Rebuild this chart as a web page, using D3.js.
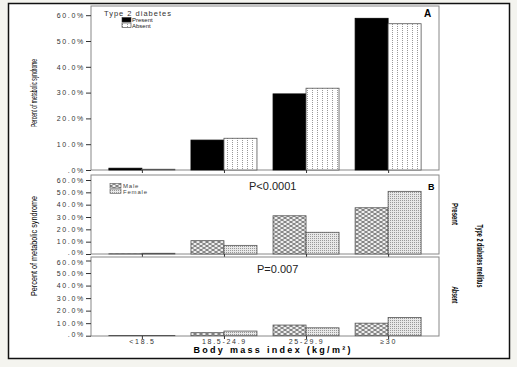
<!DOCTYPE html>
<html>
<head>
<meta charset="utf-8">
<script src="https://cdn.jsdelivr.net/npm/d3@7"></script>
<style>
  body { margin: 0; background: #f4f4ef; }
  text { font-family: "Liberation Sans", Arial, sans-serif; }
  .tick text { font-size: 7px; letter-spacing: 1.7px; fill: #333; }
  .narrow { font-family: "Liberation Sans Narrow", "Liberation Sans", sans-serif; }
</style>
</head>
<body>
<svg id="chart" width="517" height="367"></svg>
<script>

var categories = ["<18.5", "18.5-24.9", "25-29.9", "\u226530"]

var yTicks = [0, 10, 20, 30, 40, 50, 60]

// panel A: metabolic syndrome by diabetes status
var diabetesPresent = [0.7, 11.6, 29.5, 58.8]
var diabetesAbsent = [0.3, 12.3, 31.7, 56.7]

// panel B: by sex, diabetes present
var malePresent = [0.2, 10.8, 31.0, 37.5]
var femalePresent = [0.6, 7.0, 17.6, 50.8]

// panel B: by sex, diabetes absent
var maleAbsent = [0.2, 2.4, 8.5, 10.0]
var femaleAbsent = [0.2, 3.7, 6.3, 14.6]

var svg = d3.select("#chart")

// outer frame
svg.append("rect")
    .attr("x", 8.5).attr("y", 3.5)
    .attr("width", 501).attr("height", 355)
    .attr("fill", "white")
    .attr("stroke", "#111")
    .attr("stroke-width", 1.5)

var defs = svg.append("defs")

// vertical dotted lines (Absent)
var p1 = defs.append("pattern").attr("id", "vdots")
    .attr("patternUnits", "userSpaceOnUse").attr("width", 5).attr("height", 2)
p1.append("rect").attr("width", 5).attr("height", 2).attr("fill", "white")
p1.append("rect").attr("x", 2).attr("y", 0).attr("width", 1).attr("height", 1).attr("fill", "#999")

// lattice (Male)
var p2 = defs.append("pattern").attr("id", "lattice")
    .attr("patternUnits", "userSpaceOnUse").attr("width", 6).attr("height", 4)
p2.append("rect").attr("width", 6).attr("height", 4).attr("fill", "#eee")
p2.append("path").attr("d", "M0,0 L6,4 M0,4 L6,0").attr("stroke", "#555").attr("stroke-width", 0.8)

// stipple (Female)
var p3 = defs.append("pattern").attr("id", "stipple")
    .attr("patternUnits", "userSpaceOnUse").attr("width", 2).attr("height", 2)
p3.append("rect").attr("width", 2).attr("height", 2).attr("fill", "#e8e8e8")
p3.append("rect").attr("width", 1).attr("height", 1).attr("fill", "#999")

var x = d3.scalePoint()
    .domain(categories)
    .range([91, 439])
    .padding(0.62)

var barW = 33

var panels = [
    { top: 6, bottom: 170, y0: 170, y60: 15.2, series: [diabetesPresent, diabetesAbsent], fills: ["#000", "url(#vdots)"] },
    { top: 175, bottom: 254, y0: 254, y60: 180, series: [malePresent, femalePresent], fills: ["url(#lattice)", "url(#stipple)"] },
    { top: 257, bottom: 336, y0: 335.7, y60: 260.5, series: [maleAbsent, femaleAbsent], fills: ["url(#lattice)", "url(#stipple)"] }
]

panels.forEach(function(p, pi) {

    var y = d3.scaleLinear().domain([0, 60]).range([p.y0, p.y60])

    svg.append("rect")
        .attr("x", 91).attr("y", p.top)
        .attr("width", 348).attr("height", p.bottom - p.top)
        .attr("fill", "white")
        .attr("stroke", "#888")
        .attr("stroke-width", 1)

    p.series.forEach(function(s, si) {
        svg.append("g").selectAll("rect")
            .data(s)
            .join("rect")
            .attr("x", (d, i) => x(categories[i]) + (si === 0 ? -barW : 0))
            .attr("y", d => y(d))
            .attr("width", barW)
            .attr("height", d => y(0) - y(d))
            .attr("fill", p.fills[si])
            .attr("stroke", si === 0 && pi === 0 ? "#000" : "#555")
            .attr("stroke-width", 0.8)
    })

    svg.append("g")
        .attr("transform", "translate(91,0)")
        .call(d3.axisLeft(y).tickValues(yTicks).tickSize(5)
            .tickFormat(d => d === 0 ? ".0%" : d.toFixed(1) + "%"))
        .call(g => g.select(".domain").remove())
        .call(g => g.selectAll("line").attr("stroke", "#333"))
        .call(g => g.selectAll("text").attr("x", -6)
            .attr("dy", d => (d === 0 && pi > 0) ? "0.05em" : (d === 60 && pi === 2) ? "0.5em" : "0.32em"))

    var xa = svg.append("g")
        .attr("transform", "translate(0," + p.bottom + ")")
        .call(d3.axisBottom(x).tickSize(3).tickFormat(pi === 2 ? null : ""))
        .call(g => g.select(".domain").remove())
        .call(g => g.selectAll("line").attr("stroke", "#333"))
    xa.selectAll("text").attr("y", 3)
})

// y axis titles
svg.append("text").attr("class", "narrow")
    .attr("transform", "translate(37,93) rotate(-90)")
    .attr("text-anchor", "middle")
    .attr("font-size", 9)
    .attr("textLength", 68).attr("lengthAdjust", "spacingAndGlyphs")
    .text("Percent of metabolic syndrome")

svg.append("text").attr("class", "narrow")
    .attr("transform", "translate(37,246) rotate(-90)")
    .attr("text-anchor", "middle")
    .attr("font-size", 9)
    .attr("textLength", 100).attr("lengthAdjust", "spacingAndGlyphs")
    .text("Percent of metabolic syndrome")

// right side labels
svg.append("text").attr("class", "narrow")
    .attr("transform", "translate(452,214) rotate(90)")
    .attr("text-anchor", "middle")
    .attr("font-size", 9).attr("font-weight", "bold")
    .attr("textLength", 22).attr("lengthAdjust", "spacingAndGlyphs")
    .text("Present")

svg.append("text").attr("class", "narrow")
    .attr("transform", "translate(452,295) rotate(90)")
    .attr("text-anchor", "middle")
    .attr("font-size", 9).attr("font-weight", "bold")
    .attr("textLength", 17).attr("lengthAdjust", "spacingAndGlyphs")
    .text("Absent")

svg.append("text").attr("class", "narrow")
    .attr("transform", "translate(477,256) rotate(90)")
    .attr("text-anchor", "middle")
    .attr("font-size", 9).attr("font-weight", "bold")
    .attr("textLength", 63).attr("lengthAdjust", "spacingAndGlyphs")
    .text("Type 2 diabetes mellitus")

// x axis title
svg.append("text")
    .attr("x", 272).attr("y", 353)
    .attr("text-anchor", "middle")
    .attr("font-size", 9).attr("font-weight", "bold")
    .attr("textLength", 157).attr("lengthAdjust", "spacing")
    .text("Body mass index (kg/m\u00b2)")

// panel letters and p values
svg.append("text").attr("x", 424).attr("y", 17)
    .attr("font-size", 10).attr("font-weight", "bold").text("A")
svg.append("text").attr("x", 428).attr("y", 190)
    .attr("font-size", 9).attr("font-weight", "bold").text("B")
svg.append("text").attr("x", 249).attr("y", 190)
    .attr("font-size", 11).attr("fill", "#222").text("P<0.0001")
svg.append("text").attr("x", 257).attr("y", 273)
    .attr("font-size", 11).attr("fill", "#222").text("P=0.007")

// legend A
svg.append("text").attr("x", 104).attr("y", 15.5)
    .attr("font-size", 7.5).attr("letter-spacing", 1).attr("fill", "#333")
    .text("Type 2 diabetes")
var legA = [["Present", "#000"], ["Absent", "url(#vdots)"]]
legA.forEach(function(l, i) {
    svg.append("rect").attr("x", 122).attr("y", 17.5 + i * 5.5).attr("width", 9).attr("height", 4.5)
        .attr("fill", l[1]).attr("stroke", "#333").attr("stroke-width", 0.6)
    svg.append("text").attr("x", 132).attr("y", 22 + i * 5.5)
        .attr("font-size", 6).attr("fill", "#222").text(l[0])
})

// legend B
var legB = [["Male", "url(#lattice)"], ["Female", "url(#stipple)"]]
legB.forEach(function(l, i) {
    svg.append("rect").attr("x", 110).attr("y", 183.5 + i * 5.5).attr("width", 11).attr("height", 4.5)
        .attr("fill", l[1]).attr("stroke", "#555").attr("stroke-width", 0.6)
    svg.append("text").attr("x", 123).attr("y", 188 + i * 5.5)
        .attr("font-size", 6).attr("letter-spacing", 0.8).attr("fill", "#444").text(l[0])
})

</script>
</body>
</html>
